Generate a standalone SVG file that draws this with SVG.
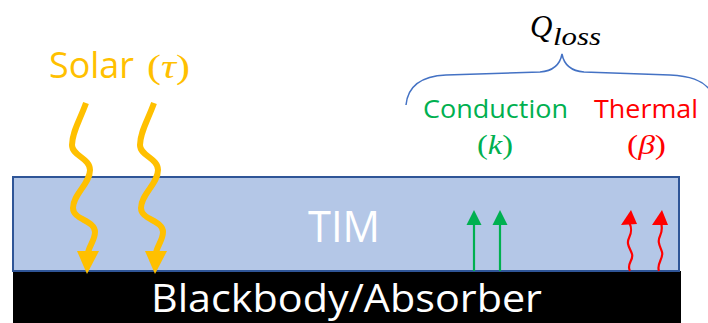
<svg xmlns="http://www.w3.org/2000/svg" width="708" height="323" viewBox="0 0 708 323">
<style>
.sans{font-family:"Open Sans","Liberation Sans",sans-serif;}
.math{font-family:"Liberation Serif","DejaVu Serif",serif;}
.solar{fill:none;stroke:#FFC000;stroke-width:6;stroke-linecap:butt;}
.solarHead{fill:#FFC000;}
.cond{stroke:#00B050;stroke-width:2.2;fill:none;}
.condHead{fill:#00B050;}
.therm{stroke:#FF0000;stroke-width:2.2;fill:none;}
.thermHead{fill:#FF0000;}
</style>
<rect width="708" height="323" fill="#ffffff"/>
<g id="absorber">
<rect x="13" y="271" width="668" height="52" fill="#000000"/>
<text class="sans" x="151" y="312" font-size="38" fill="#ffffff" textLength="391" lengthAdjust="spacingAndGlyphs">Blackbody/Absorber</text>
</g>
<g id="tim">
<rect x="13" y="177" width="666" height="94" fill="#B4C7E7" stroke="#2F5597" stroke-width="2"/>
<text class="sans" x="308" y="242" font-size="44" fill="#ffffff" textLength="72" lengthAdjust="spacingAndGlyphs">TIM</text>
</g>
<g id="solar-label">
<text class="sans" x="49" y="78" font-size="36" fill="#FFC000" textLength="85" lengthAdjust="spacingAndGlyphs">Solar</text>
<text class="math" x="147" y="78" font-size="34" fill="#FFC000" textLength="43" lengthAdjust="spacingAndGlyphs">(<tspan font-style="italic">τ</tspan>)</text>
</g>
<g id="qloss">
<text class="math" x="530" y="37" font-size="31" font-style="italic" fill="#000000">Q</text>
<text class="math" x="553" y="45" font-size="25" font-style="italic" fill="#000000" textLength="48" lengthAdjust="spacingAndGlyphs">loss</text>
<path d="M406,105 C408,84 424,76 446,75 L540,72 C553,71 560,65 562,54 C564,65 571,71 584,72 L670,75 C690,76 702,80 710,90" fill="none" stroke="#4472C4" stroke-width="1.5"/>
</g>
<g id="conduction-label">
<text class="sans" x="423" y="118" font-size="26" fill="#00B050" textLength="145" lengthAdjust="spacingAndGlyphs">Conduction</text>
<text class="math" x="477" y="154" font-size="28" fill="#00B050" textLength="36" lengthAdjust="spacingAndGlyphs">(<tspan font-style="italic">k</tspan>)</text>
</g>
<g id="thermal-label">
<text class="sans" x="594" y="118" font-size="26" fill="#FF0000" textLength="104" lengthAdjust="spacingAndGlyphs">Thermal</text>
<text class="math" x="627" y="154" font-size="28" fill="#FF0000" textLength="39" lengthAdjust="spacingAndGlyphs">(<tspan font-style="italic">β</tspan>)</text>
</g>
<g id="connectors">
<path class="solar" d="M86,103 C80,120 72,132 72,145 C72,156 90,158 90,170 C90,184 73,194 73,208 C73,220 95,220 95,232 C95,240 89,246 88,253"/>
<polygon class="solarHead" points="77,251 99,251 87,274"/>
<path class="solar" d="M154,103 C148,120 140,132 140,145 C140,156 158,158 158,170 C158,184 141,194 141,208 C141,220 163,220 163,232 C163,240 157,246 156,253"/>
<polygon class="solarHead" points="145,251 167,251 155,274"/>
<line class="cond" x1="474" y1="271" x2="474" y2="222"/>
<polygon class="condHead" points="466.5,225 481.5,225 474,210"/>
<line class="cond" x1="500" y1="271" x2="500" y2="222"/>
<polygon class="condHead" points="492.5,225 507.5,225 500,210"/>
<path class="therm" d="M630,271 C626,264 634,260 632,254 C630,248 626,244 629,238 C632,232 632,228 629,222"/>
<polygon class="thermHead" points="621,225 637,224 631,210"/>
<path class="therm" d="M659,271 C656,264 664,258 662,252 C660,246 657,242 660,236 C663,230 662,226 661,222"/>
<polygon class="thermHead" points="652,225 668,225 662,210"/>
</g>
</svg>
